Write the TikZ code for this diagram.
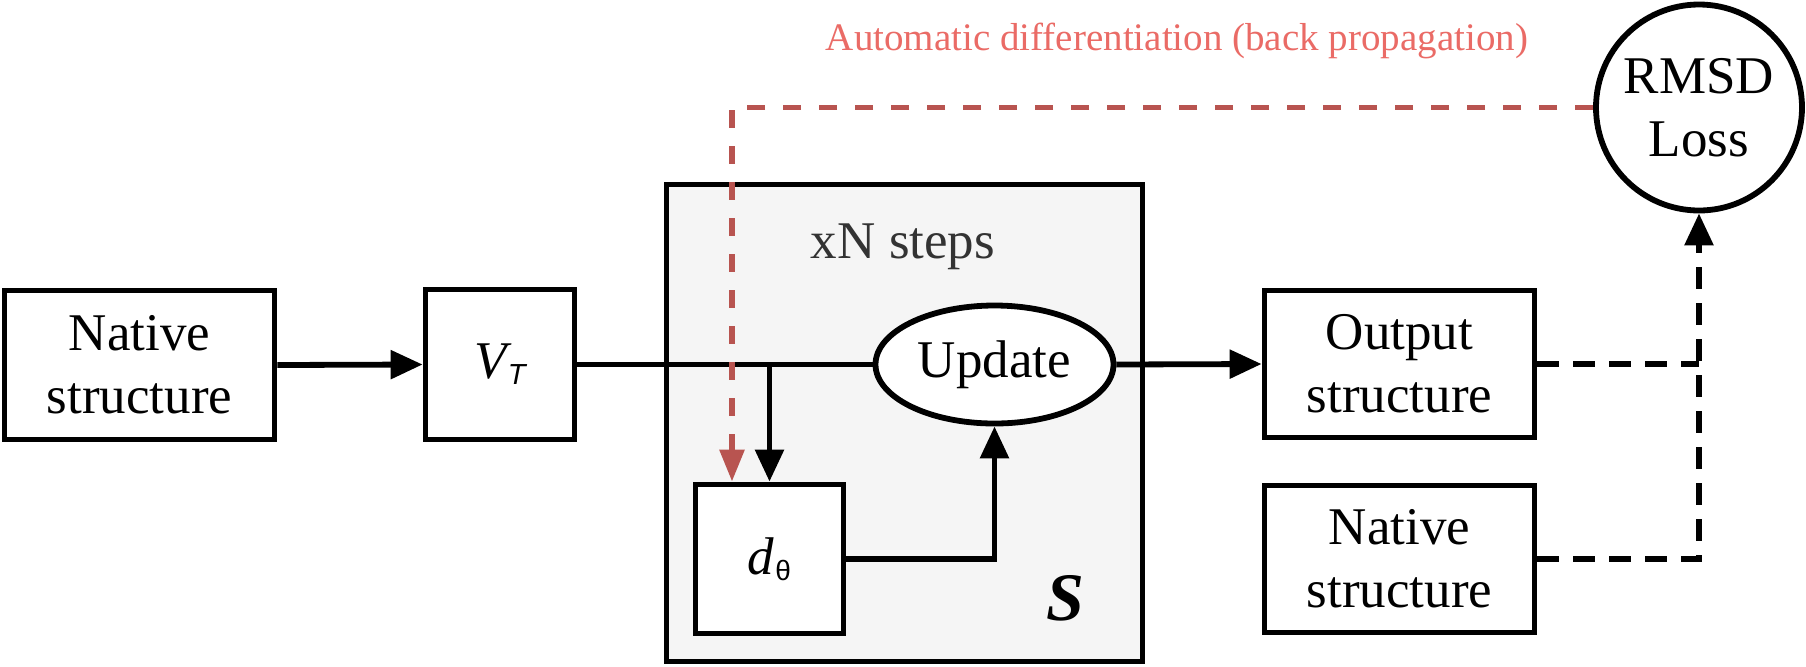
\documentclass[tikz,border=0pt]{standalone}
\usepackage{fontspec}
\setmainfont{Liberation Serif}
\newfontfamily\sansf{Liberation Sans}
\usetikzlibrary{arrows.meta,shapes.geometric,calc}
\definecolor{redline}{HTML}{B85450}
\definecolor{redtext}{HTML}{EA6B66}
\definecolor{graytext}{HTML}{333333}
\definecolor{grayfill}{HTML}{F5F5F5}
\newcommand\mainsz{\fontsize{26.5}{31.5}\selectfont}
\begin{document}
\begin{tikzpicture}[x=0.5pt,y=-0.5pt,
  lw/.style={line width=2.9pt},
  box/.style={draw,lw,fill=white,rectangle,inner sep=0pt,align=center,font=\mainsz},
  conn/.style={lw,line join=miter},
  arr/.style={-{Triangle[length=16pt,width=14pt]}},
  blackdash/.style={dash pattern=on 11pt off 7pt},
  redconn/.style={lw,draw=redline,dash pattern=on 9pt off 9pt,-{Triangle[length=16pt,width=12pt]}},
]
\useasboundingbox (0,0) rectangle (1806,666);
% loop container
\node[box,fill=grayfill,minimum width=238pt,minimum height=238.5pt] (sbox) at (904.5,423) {};
\node[font=\mainsz,text=graytext,anchor=base] (steps) at (903,258) {xN steps};
\node[font=\fontsize{34}{34}\selectfont\bfseries\itshape,anchor=base] (slabel) at (1065,620) {S};
% nodes
\node[box,minimum width=135pt,minimum height=74.5pt] (nat1) at (139.5,365) {Native\\structure};
\node[box,minimum width=74.5pt,minimum height=75pt] (vt) at (500,364.5) {{\itshape V}\kern0.5pt\raisebox{-3pt}{\fontsize{14.5}{14.5}\selectfont\sansf\itshape T}};
\node[box,minimum width=74pt,minimum height=74.5pt] (d) at (769.5,559) {{\itshape d}\kern0.5pt\raisebox{-3pt}{\fontsize{14}{14}\selectfont\sansf θ}};
\node[box,ellipse,minimum width=119pt,minimum height=59pt] (upd) at (994.5,364.5) {Update};
\node[box,minimum width=135pt,minimum height=73.5pt] (out) at (1399.5,364) {Output\\structure};
\node[box,minimum width=135pt,minimum height=73.5pt] (nat2) at (1399.5,559) {Native\\structure};
\node[box,circle,minimum size=103pt] (loss) at (1699,107.5) {RMSD\\Loss};
\node[font=\fontsize{19.5}{19.5}\selectfont,text=redtext,anchor=base] (adlabel) at (1177,50) {Automatic differentiation (back propagation)};
% connectors
\draw[conn,arr] (nat1.east) -- (vt.west);
\draw[conn] (vt.east) -- (upd.west);
\coordinate (br) at (d.north |- vt.east);
\draw[conn,arr] (br) -- (d.north);
\draw[conn,arr] (d.east) -| (upd.south);
\draw[conn,arr] (upd.east) -- (out.west);
\draw[conn,blackdash] (out.east) -- (out.east -| loss.south);
\draw[conn,blackdash,arr] (nat2.east) -| (loss.south);
\coordinate (redin) at ($(d.north)+(-37.5,0)$);
\draw[redconn] (loss.west) -| (redin);
\end{tikzpicture}
\end{document}
